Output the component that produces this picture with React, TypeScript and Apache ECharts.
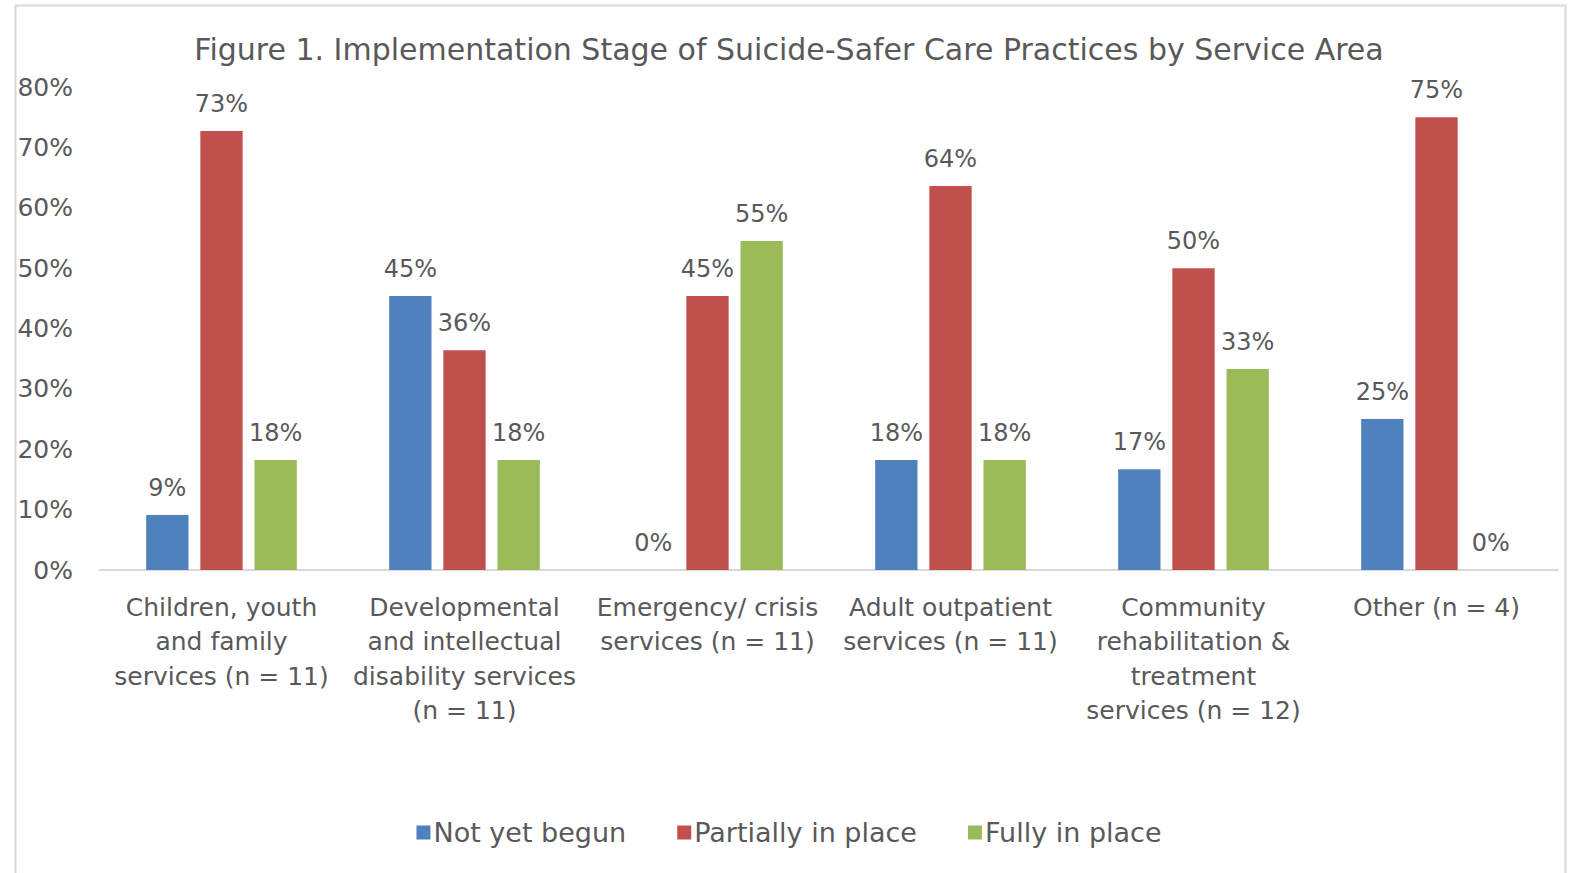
import React, { useEffect, useRef } from "react";
import * as echarts from "echarts";

const categories = [
  "Children, youth\nand family\nservices (n = 11)",
  "Developmental\nand intellectual\ndisability services\n(n = 11)",
  "Emergency/ crisis\nservices (n = 11)",
  "Adult outpatient\nservices (n = 11)",
  "Community\nrehabilitation &\ntreatment\nservices (n = 12)",
  "Other (n = 4)",
];
const notYetBegun = [9.1, 45.4, 0, 18.2, 16.7, 25];
const partiallyInPlace = [72.7, 36.4, 45.4, 63.6, 50, 75];
const fullyInPlace = [18.2, 18.2, 54.5, 18.2, 33.3, 0];
const yTicks = [0, 10, 20, 30, 40, 50, 60, 70, 80];

const FONT = "'DejaVu Sans', sans-serif";
const GRAY = "#595959";

export default function App() {
  const ref = useRef<HTMLDivElement>(null);
  useEffect(() => {
    document.body.style.margin = "0";
    const chart = echarts.init(ref.current!, null, { renderer: "svg" });
    const label = {
      show: true,
      position: "top",
      distance: 15,
      color: GRAY,
      fontSize: 24,
      fontFamily: FONT,
      formatter: (p: any) => Math.round(p.value) + "%",
    };
    const mk = (name: string, data: number[], color: string) => ({
      name,
      type: "bar",
      data,
      barGap: "28%",
      barCategoryGap: "38%",
      itemStyle: { color },
      label,
    });
    chart.setOption({
      animation: false,
      backgroundColor: "#fff",
      textStyle: { fontFamily: FONT },
      title: {
        text: "Figure 1. Implementation Stage of Suicide-Safer Care Practices by Service Area",
        left: "center",
        top: 29,
        textStyle: { color: GRAY, fontSize: 30, fontWeight: "normal", fontFamily: FONT },
      },
      legend: {
        bottom: 22,
        left: "center",
        icon: "rect",
        itemWidth: 14,
        itemHeight: 14,
        itemGap: 51,
        textStyle: { color: GRAY, fontSize: 27, fontFamily: FONT, padding: [0, 0, 0, -2] },
        data: ["Not yet begun", "Partially in place", "Fully in place"],
      },
      graphic: [
        {
          type: "rect",
          shape: { x: 15.5, y: 5.5, width: 1550, height: 900 },
          style: { fill: "none", stroke: "#d9d9d9", lineWidth: 2 },
          silent: true,
        },
      ],
      grid: { left: 100, right: 20, top: 87, bottom: 303, containLabel: false },
      xAxis: {
        type: "category",
        data: categories,
        axisLine: { lineStyle: { color: "#d9d9d9", width: 2 } },
        axisTick: { show: false },
        axisLabel: {
          color: GRAY,
          fontSize: 25,
          fontFamily: FONT,
          lineHeight: 34.5,
          margin: 20,
          interval: 0,
        },
      },
      yAxis: {
        type: "value",
        min: yTicks[0],
        max: yTicks[yTicks.length - 1],
        interval: 10,
        splitLine: { show: false },
        axisLine: { show: false },
        axisLabel: {
          color: GRAY,
          fontSize: 25,
          fontFamily: FONT,
          margin: 27,
          formatter: (v: number) => v + "%",
        },
      },
      series: [
        mk("Not yet begun", notYetBegun, "#4f81bd"),
        mk("Partially in place", partiallyInPlace, "#c0504d"),
        mk("Fully in place", fullyInPlace, "#9bbb59"),
      ],
    });
    return () => chart.dispose();
  }, []);
  return <div ref={ref} style={{ width: 1578, height: 873 }} />;
}
